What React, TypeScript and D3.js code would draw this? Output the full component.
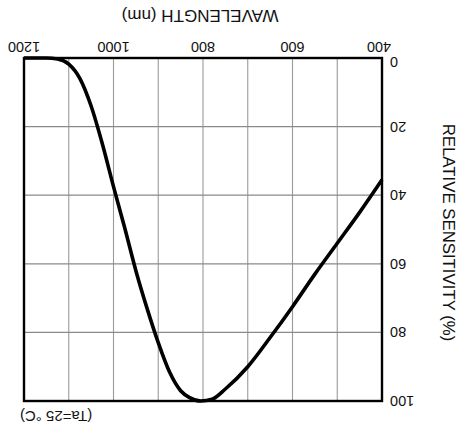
import React from 'react';
import * as d3 from 'd3';

const wavelengths = [400, 450, 500, 550, 600, 650, 700, 750, 780, 805, 830, 850, 875, 900, 925, 950, 975, 1000, 1025, 1050, 1075, 1100, 1125, 1150, 1200];
const sensitivity = [35.5, 45, 54, 63, 72.5, 81.5, 90, 96.5, 99.5, 100, 99, 97, 91.5, 83, 73, 62, 49.5, 37.5, 25, 14, 6, 1.8, 0.3, 0, 0];

const xTicks = [400, 600, 800, 1000, 1200];
const xGrid = [500, 600, 700, 800, 900, 1000, 1100];
const yTicks = [0, 20, 40, 60, 80, 100];
const yGrid = [20, 40, 60, 80];

const W = 467;
const H = 434;
const margin = { top: 33, right: 24, bottom: 58, left: 85 };
const font = '"Liberation Sans", Arial, sans-serif';

export default function App() {
  const x = d3.scaleLinear().domain([400, 1200]).range([margin.left, W - margin.right]);
  const y = d3.scaleLinear().domain([0, 100]).range([H - margin.bottom, margin.top]);

  const pts: [number, number][] = wavelengths.map((w, i) => [w, sensitivity[i]]);
  const line = d3.line<[number, number]>()
    .x(d => x(d[0]))
    .y(d => y(d[1]))
    .curve(d3.curveMonotoneX);

  const [x0, x1] = x.range();
  const [y0, y1] = y.range();

  return (
    <svg width={W} height={H} style={{ position: 'absolute', left: 0, top: 0, background: '#fff' }}>
      {/* the whole figure is printed upside down */}
      <g transform={`rotate(180 ${W / 2} ${H / 2})`} fontFamily={font} fill="#111">
        {xGrid.map(t => (
          <line key={'gx' + t} x1={x(t)} x2={x(t)} y1={y1} y2={y0} stroke="#9a9a9a" strokeWidth={1.1} />
        ))}
        {yGrid.map(t => (
          <line key={'gy' + t} x1={x0} x2={x1} y1={y(t)} y2={y(t)} stroke="#8a8a8a" strokeWidth={1.3} />
        ))}

        <path d={line(pts) || ''} fill="none" stroke="#000" strokeWidth={3.6} strokeLinejoin="round" />

        <rect x={x0} y={y1} width={x1 - x0} height={y0 - y1} fill="none" stroke="#000" strokeWidth={2.4} />

        {xTicks.map(t => (
          <text key={'tx' + t} x={x(t) + (t === 400 ? 3 : 0)} y={y0 + 16} textAnchor="middle" fontSize={14.5}>{t}</text>
        ))}
        {yTicks.map(t => (
          <text key={'ty' + t} x={x0 - 8} y={y(t) + 5 - (t === 0 ? 4 : 0)} textAnchor="end" fontSize={14.5}>{t}</text>
        ))}

        <text x={(x0 + x1) / 2 + 3} y={424} textAnchor="middle" fontSize={17}>WAVELENGTH (nm)</text>
        <text transform={`translate(24, ${(y0 + y1) / 2 - 3}) rotate(-90)`} textAnchor="middle" fontSize={16.8}>
          RELATIVE SENSITIVITY (%)
        </text>
        <text x={447} y={23} textAnchor="end" fontSize={15}>(Ta=25 °C)</text>
      </g>
    </svg>
  );
}
